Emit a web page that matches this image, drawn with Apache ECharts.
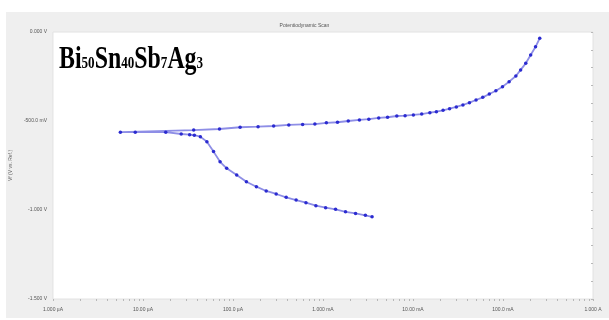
<!DOCTYPE html>
<html>
<head>
<meta charset="utf-8">
<script src="https://cdn.jsdelivr.net/npm/echarts@6/dist/echarts.min.js"></script>
<style>
  html, body { margin: 0; padding: 0; background: #fff; }
  #chart { width: 609px; height: 320px; }
</style>
</head>
<body>
<div id="chart"></div>
<script>
// scan order: cathodic branch (high current, low potential) up to Ecorr, then anodic branch
const currentA = [
    3.51e-3, 2.96e-3, 2.30e-3, 1.78e-3, 1.38e-3, 1.07e-3, 8.34e-4, 6.47e-4, 5.03e-4, 3.90e-4,
    3.02e-4, 2.34e-4, 1.82e-4, 1.41e-4, 1.10e-4, 8.51e-5, 7.19e-5, 6.08e-5, 5.13e-5, 4.34e-5,
    3.72e-5, 3.30e-5, 2.66e-5, 1.79e-5, 8.21e-6, 5.61e-6,
    3.66e-5, 7.08e-5, 1.20e-4, 1.90e-4, 2.83e-4, 4.17e-4, 5.94e-4, 8.13e-4, 1.09e-3, 1.45e-3,
    1.91e-3, 2.54e-3, 3.23e-3, 4.16e-3, 5.22e-3, 6.61e-3, 8.17e-3, 1.01e-2, 1.25e-2, 1.54e-2,
    1.82e-2, 2.16e-2, 2.55e-2, 3.03e-2, 3.59e-2, 4.24e-2, 5.02e-2, 5.96e-2, 7.05e-2, 8.34e-2,
    9.88e-2, 0.117, 0.139, 0.157, 0.179, 0.203, 0.230, 0.256,
];
const potentialV = [
    -1.038, -1.030, -1.019, -1.010, -0.996, -0.987, -0.976, -0.959, -0.944, -0.929,
    -0.910, -0.893, -0.869, -0.841, -0.803, -0.766, -0.729, -0.672, -0.616, -0.588,
    -0.580, -0.577, -0.573, -0.563, -0.563, -0.563,
    -0.551, -0.545, -0.535, -0.532, -0.528, -0.522, -0.519, -0.517, -0.510, -0.507,
    -0.500, -0.494, -0.490, -0.483, -0.479, -0.472, -0.470, -0.466, -0.461, -0.453,
    -0.448, -0.440, -0.431, -0.421, -0.410, -0.397, -0.382, -0.367, -0.348, -0.330,
    -0.307, -0.279, -0.247, -0.213, -0.176, -0.129, -0.083, -0.035,
];

// tick labels
const xTickLabels = ['1.000 µA', '10.00 µA', '100.0 µA', '1.000 mA', '10.00 mA', '100.0 mA', '1.000 A'];
const yTickLabels = { '-1.5': '-1.500 V', '-1': '-1.000 V', '-0.5': '-500.0 mV', '0': '0.000 V' };

// minor tick positions (log10 space) for the overlay axis
const minorTicks = [];
for (let d = -6; d < 0; d++) {
    for (let m = 1; m <= 10; m++) minorTicks.push(d + Math.log10(m));
}

const myChart = echarts.init(document.getElementById('chart'), null, { renderer: 'canvas' });
const tinyFont = { fontSize: 5, color: '#555', fontFamily: 'Liberation Sans' };

const option = {
    animation: false,
    backgroundColor: '#fff',
    graphic: [
        {
            type: 'rect',
            z: -10,
            shape: { x: 6, y: 12, width: 603, height: 306 },
            style: { fill: '#efefef' },
        },
        {
            type: 'text',
            z: 100,
            x: 59,
            y: 44,
            scaleX: 0.77,
            style: {
                text: '{a|Bi}{s|50}{a|Sn}{s|40}{a|Sb}{s|7}{a|Ag}{s|3}',
                rich: {
                    a: {
                        fontFamily: 'Liberation Serif',
                        fontWeight: 'bold',
                        fontSize: 31,
                        lineHeight: 31,
                        verticalAlign: 'bottom',
                        fill: '#000',
                    },
                    s: {
                        fontFamily: 'Liberation Serif',
                        fontWeight: 'bold',
                        fontSize: 17,
                        lineHeight: 17,
                        verticalAlign: 'bottom',
                        padding: [0, 0, 3, 0],
                        fill: '#000',
                    },
                },
            },
        },
    ],
    title: {
        text: 'Potentiodynamic Scan',
        left: 'center',
        top: 18,
        textStyle: { fontSize: 5, color: '#555', fontWeight: 'normal', fontFamily: 'Liberation Sans' },
    },
    grid: {
        left: 48,
        right: 16,
        top: 32,
        bottom: 21,
        show: true,
        backgroundColor: '#fff',
        borderColor: '#e2e2e2',
        borderWidth: 1,
    },
    xAxis: [
        {
            type: 'log',
            logBase: 10,
            min: 1e-6,
            max: 1,
            splitNumber: 6,
            axisLine: { show: false },
            axisTick: { show: false },
            splitLine: { show: false },
            axisLabel: {
                ...tinyFont,
                margin: 8,
                showMinLabel: true,
                showMaxLabel: true,
                formatter: (v) => xTickLabels[Math.round(Math.log10(v)) + 6],
            },
        },
        {
            type: 'value',
            min: -6,
            max: 0,
            position: 'bottom',
            axisLine: { show: false },
            splitLine: { show: false },
            axisLabel: { show: false },
            axisTick: {
                show: true,
                length: 2,
                customValues: minorTicks,
                lineStyle: { color: '#b8b8b8', width: 1 },
            },
        },
    ],
    yAxis: {
        type: 'value',
        min: -1.5,
        max: 0,
        interval: 0.1,
        name: 'Vf (V vs. Ref.)',
        nameLocation: 'middle',
        nameGap: 33,
        nameRotate: 90,
        nameTextStyle: { fontSize: 5, color: '#666', fontFamily: 'Liberation Sans' },
        axisLine: { show: false },
        splitLine: { show: false },
        axisTick: { show: true, length: 2, lineStyle: { color: '#b8b8b8' } },
        axisLabel: {
            ...tinyFont,
            margin: 6,
            interval: 4,
            formatter: (v) => yTickLabels[String(Math.round(v * 10) / 10)] || '',
        },
    },
    series: [
        {
            type: 'line',
            xAxisIndex: 0,
            data: currentA.map((c, i) => [c, potentialV[i]]),
            symbol: 'circle',
            symbolSize: 3.5,
            showSymbol: true,
            showAllSymbol: true,
            itemStyle: { color: '#2b2bd0' },
            lineStyle: { color: '#8e8ee6', width: 1.8 },
        },
    ],
};
myChart.setOption(option);
</script>
</body>
</html>
